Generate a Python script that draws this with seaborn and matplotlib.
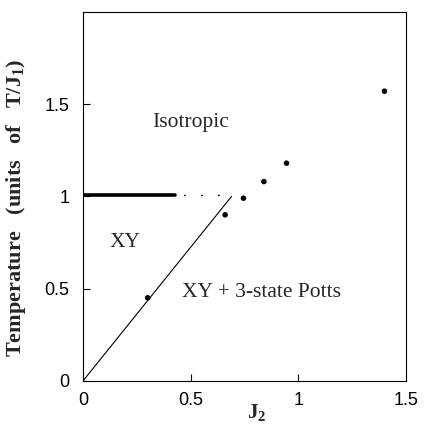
import matplotlib
matplotlib.use("Agg")
import matplotlib.pyplot as plt
import seaborn as sns
import pandas as pd
from matplotlib.ticker import FuncFormatter

# Monte Carlo transition points
j2_points = [0.30, 0.66, 0.745, 0.84, 0.945, 1.40]
t_points = [0.45, 0.90, 0.99, 1.08, 1.18, 1.57]

# Phase boundaries
xy_potts_j2 = [0.0, 0.69]
xy_potts_t = [0.0, 1.0]
kt_solid_j2 = [0.0, 0.425]
kt_solid_t = [1.01, 1.01]
kt_dotted_j2 = [0.425, 0.69]
kt_dotted_t = [1.01, 1.01]

# Region labels
region_text = ["Isotropic", "XY", "XY + 3-state Potts"]
region_j2 = [0.50, 0.195, 0.83]
region_t = [1.40, 0.75, 0.48]

sns.set_theme(style="ticks")
plt.rcParams['font.family'] = ['Liberation Sans', 'DejaVu Sans']
plt.rcParams['mathtext.fontset'] = 'custom'
plt.rcParams['mathtext.rm'] = 'Liberation Serif'
plt.rcParams['mathtext.bf'] = 'Liberation Serif:bold'
serif = ['Liberation Serif', 'DejaVu Serif']

fig = plt.figure(figsize=(4.26, 4.25), dpi=100)
ax = fig.add_axes([0.195, 0.104, 0.758, 0.868])

pts = pd.DataFrame({"J2": j2_points, "T": t_points})
sns.scatterplot(data=pts, x="J2", y="T", ax=ax, color="black", s=16,
                edgecolor="none", zorder=5)

sns.lineplot(x=xy_potts_j2, y=xy_potts_t, ax=ax, color="black", lw=0.8)
sns.lineplot(x=kt_solid_j2, y=kt_solid_t, ax=ax, color="black", lw=2.6)
ax.plot(kt_dotted_j2, kt_dotted_t, color="black", lw=1.0,
        linestyle=(6, (1.2, 11)))

for txt, x, y in zip(region_text, region_j2, region_t):
    ax.text(x, y, txt, ha="center", va="center", fontsize=15.5, family=serif)

ax.set_xlim(0, 1.5)
ax.set_ylim(0, 2.0)
ax.set_xticks([0, 0.5, 1, 1.5])
ax.set_yticks([0, 0.5, 1, 1.5])
fmt = FuncFormatter(lambda v, p: f"{v:g}")
ax.xaxis.set_major_formatter(fmt)
ax.yaxis.set_major_formatter(fmt)
ax.tick_params(direction="in", length=5, width=0.8, labelsize=13, colors="black")
ax.tick_params(axis="x", pad=8)
ax.tick_params(axis="y", pad=10)

for s in ax.spines.values():
    s.set_visible(True)
    s.set_color("black")
    s.set_linewidth(0.8)

ax.set_xlabel(r"$\mathbf{J_2}$", fontsize=15)
ax.xaxis.set_label_coords(0.539, -0.114)
ax.xaxis.label.set_va("bottom")
ax.set_ylabel(r"Temperature   (units   of   $\mathbf{T/J_1}$)", fontsize=16,
              fontweight="bold", family=serif)
ax.yaxis.set_label_coords(-0.17, 0.469)

fig.savefig("out.png", dpi=100)
